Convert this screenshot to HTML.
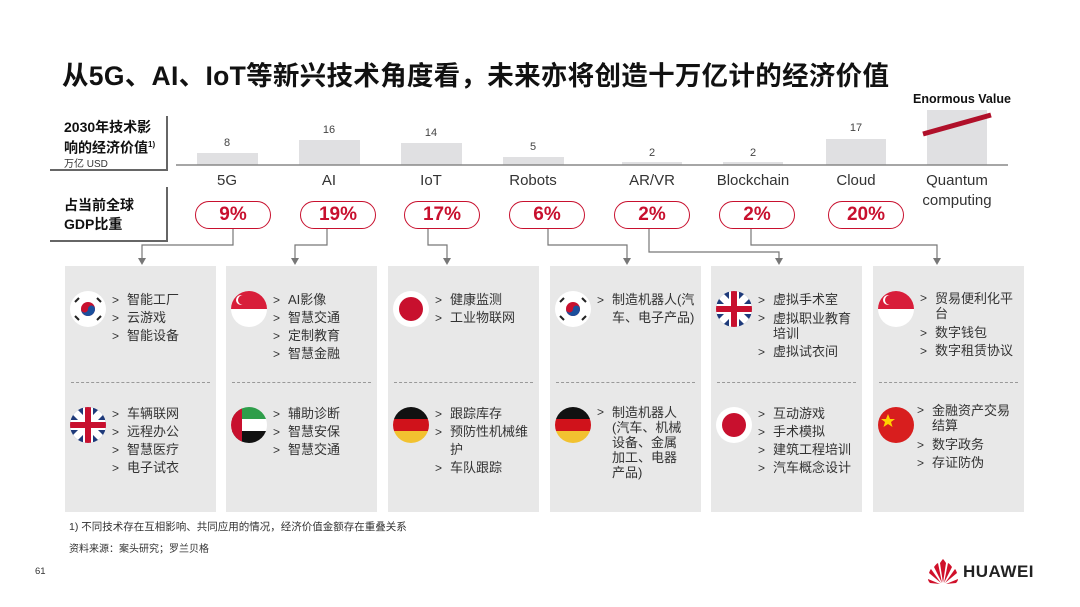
<!DOCTYPE html>
<html><head><meta charset="utf-8"><style>
*{margin:0;padding:0;box-sizing:border-box}
body{width:1080px;height:607px;background:#fff;position:relative;overflow:hidden;font-family:"Liberation Sans","Noto Sans CJK SC",sans-serif;color:#222}
.abs{position:absolute}
.title{left:62px;top:54px;font-size:26.5px;font-weight:bold;color:#111;letter-spacing:0.3px}
.card{position:absolute;top:266px;width:151px;height:246px;background:#e8e8e8}
.dash{position:absolute;left:6px;right:6px;top:116px;border-top:1px dashed #999}
.flag{position:absolute;left:5px;width:36px;height:36px}
.list{position:absolute;left:47px;right:4px;font-size:13px;line-height:18px;color:#333}
.list div{position:relative;padding-left:15px}
.list div:before{content:">";position:absolute;left:0;top:0;font-size:12px}
.pill{position:absolute;top:201px;width:76px;height:28px;border:1.3px solid #c8102e;border-radius:14px;color:#c8102e;font-weight:bold;font-size:19px;text-align:center;line-height:26px}
.cat{position:absolute;top:172px;width:110px;text-align:center;font-size:15px;color:#333}
.val{position:absolute;width:60px;text-align:center;font-size:11px;color:#444}
</style></head><body>
<div class="abs title">从5G、AI、IoT等新兴技术角度看，未来亦将创造十万亿计的经济价值</div>

<div class="abs" style="left:50px;top:116px;width:118px;height:55px;border-right:2px solid #666;border-bottom:2px solid #666"></div>
<div class="abs" style="left:64px;top:118px;font-size:14px;font-weight:bold;line-height:18px;color:#111">2030年技术影<br>响的经济价值<sup style="font-size:8px">1)</sup></div>
<div class="abs" style="left:64px;top:155px;font-size:10px;color:#333">万亿 USD</div>
<div class="abs" style="left:50px;top:187px;width:118px;height:55px;border-right:2px solid #666;border-bottom:2px solid #666"></div>
<div class="abs" style="left:64px;top:196px;font-size:14px;font-weight:bold;line-height:19px;color:#111">占当前全球<br>GDP比重</div>

<svg class="abs" style="left:0;top:0" width="1080" height="280">
<g fill="#e0e0e2">
<rect x="197" y="153" width="61" height="12"/>
<rect x="299" y="140" width="61" height="25"/>
<rect x="401" y="143" width="61" height="22"/>
<rect x="503" y="157" width="61" height="8"/>
<rect x="622" y="162" width="60" height="3"/>
<rect x="723" y="162" width="60" height="3"/>
<rect x="826" y="139" width="60" height="26"/>
<rect x="927" y="110" width="60" height="55"/>
</g>
<line x1="176" y1="165" x2="1008" y2="165" stroke="#888" stroke-width="1.5"/>
<line x1="923" y1="134" x2="991" y2="115" stroke="#b0102a" stroke-width="5"/>
<g fill="none" stroke="#777" stroke-width="1.2">
<polyline points="233,229 233,245 142,245 142,260"/>
<polyline points="327,229 327,245 295,245 295,260"/>
<polyline points="428,229 428,245 447,245 447,260"/>
<polyline points="548,229 548,245 627,245 627,260"/>
<polyline points="649,229 649,252 779,252 779,260"/>
<polyline points="751,229 751,245 937,245 937,260"/>
</g>
<g fill="#777">
<polygon points="138,258 146,258 142,265"/>
<polygon points="291,258 299,258 295,265"/>
<polygon points="443,258 451,258 447,265"/>
<polygon points="623,258 631,258 627,265"/>
<polygon points="775,258 783,258 779,265"/>
<polygon points="933,258 941,258 937,265"/>
</g>
</svg>
<div class="abs" style="left:913px;top:92px;font-size:12.5px;font-weight:bold;color:#111">Enormous Value</div>

<div class="val" style="left:197px;top:137px">8</div>
<div class="val" style="left:299px;top:124px">16</div>
<div class="val" style="left:401px;top:127px">14</div>
<div class="val" style="left:503px;top:141px">5</div>
<div class="val" style="left:622px;top:147px">2</div>
<div class="val" style="left:723px;top:147px">2</div>
<div class="val" style="left:826px;top:122px">17</div>

<div class="cat" style="left:172px">5G</div>
<div class="cat" style="left:274px">AI</div>
<div class="cat" style="left:376px">IoT</div>
<div class="cat" style="left:478px">Robots</div>
<div class="cat" style="left:597px">AR/VR</div>
<div class="cat" style="left:698px">Blockchain</div>
<div class="cat" style="left:801px">Cloud</div>
<div class="cat" style="left:902px;line-height:20px;top:171px">Quantum<br>computing</div>

<div class="pill" style="left:195px">9%</div>
<div class="pill" style="left:300px">19%</div>
<div class="pill" style="left:404px">17%</div>
<div class="pill" style="left:509px">6%</div>
<div class="pill" style="left:614px">2%</div>
<div class="pill" style="left:719px">2%</div>
<div class="pill" style="left:828px">20%</div>

<div class="card" style="left:65px">
 <svg class="flag" style="top:25px" viewBox="0 0 36 36"><circle cx="18" cy="18" r="18" fill="#fff"/><circle cx="18" cy="18" r="7" fill="#c8102e"/><path d="M11,18a7,7 0 0 0 14,0a3.5,3.5 0 0 0 -7,0a3.5,3.5 0 0 1 -7,0z" fill="#1b4f9c"/><g stroke="#222" stroke-width="2"><line x1="5" y1="11" x2="9" y2="7"/><line x1="27" y1="7" x2="31" y2="11"/><line x1="5" y1="25" x2="9" y2="29"/><line x1="27" y1="29" x2="31" y2="25"/></g></svg>
 <div class="list" style="top:25px"><div>智能工厂</div><div>云游戏</div><div>智能设备</div></div>
 <div class="dash"></div>
 <svg class="flag" style="top:141px" viewBox="0 0 36 36"><defs><clipPath id="c1"><circle cx="18" cy="18" r="18"/></clipPath></defs><g clip-path="url(#c1)"><rect width="36" height="36" fill="#1e3a7a"/><path d="M0,0L36,36M36,0L0,36" stroke="#fff" stroke-width="7"/><path d="M18,0V36M0,18H36" stroke="#fff" stroke-width="10"/><path d="M18,0V36M0,18H36" stroke="#c8102e" stroke-width="6"/></g></svg>
 <div class="list" style="top:139px"><div>车辆联网</div><div>远程办公</div><div>智慧医疗</div><div>电子试衣</div></div>
</div>

<div class="card" style="left:226px">
 <svg class="flag" style="top:25px" viewBox="0 0 36 36"><defs><clipPath id="c2"><circle cx="18" cy="18" r="18"/></clipPath></defs><g clip-path="url(#c2)"><rect width="36" height="36" fill="#fff"/><rect width="36" height="18" fill="#d81e3a"/><circle cx="10" cy="9" r="5" fill="#fff"/><circle cx="12" cy="9" r="5" fill="#d81e3a"/></g></svg>
 <div class="list" style="top:25px"><div>AI影像</div><div>智慧交通</div><div>定制教育</div><div>智慧金融</div></div>
 <div class="dash"></div>
 <svg class="flag" style="top:141px" viewBox="0 0 36 36"><defs><clipPath id="c3"><circle cx="18" cy="18" r="18"/></clipPath></defs><g clip-path="url(#c3)"><rect width="36" height="12" fill="#2e9e4a"/><rect y="12" width="36" height="12" fill="#fff"/><rect y="24" width="36" height="12" fill="#111"/><rect width="11" height="36" fill="#c8102e"/></g></svg>
 <div class="list" style="top:139px"><div>辅助诊断</div><div>智慧安保</div><div>智慧交通</div></div>
</div>

<div class="card" style="left:388px">
 <svg class="flag" style="top:25px" viewBox="0 0 36 36"><circle cx="18" cy="18" r="18" fill="#fff"/><circle cx="18" cy="18" r="12" fill="#c8102e"/></svg>
 <div class="list" style="top:25px"><div>健康监测</div><div>工业物联网</div></div>
 <div class="dash"></div>
 <svg class="flag" style="top:141px" viewBox="0 0 36 36"><defs><clipPath id="c4"><circle cx="18" cy="18" r="18"/></clipPath></defs><g clip-path="url(#c4)"><rect width="36" height="12" fill="#111"/><rect y="12" width="36" height="12" fill="#d0121b"/><rect y="24" width="36" height="12" fill="#f2c230"/></g></svg>
 <div class="list" style="top:139px"><div>跟踪库存</div><div>预防性机械维护</div><div>车队跟踪</div></div>
</div>

<div class="card" style="left:550px">
 <svg class="flag" style="top:25px" viewBox="0 0 36 36"><circle cx="18" cy="18" r="18" fill="#fff"/><circle cx="18" cy="18" r="7" fill="#c8102e"/><path d="M11,18a7,7 0 0 0 14,0a3.5,3.5 0 0 0 -7,0a3.5,3.5 0 0 1 -7,0z" fill="#1b4f9c"/><g stroke="#222" stroke-width="2"><line x1="5" y1="11" x2="9" y2="7"/><line x1="27" y1="7" x2="31" y2="11"/><line x1="5" y1="25" x2="9" y2="29"/><line x1="27" y1="29" x2="31" y2="25"/></g></svg>
 <div class="list" style="top:25px"><div>制造机器人(汽车、电子产品)</div></div>
 <div class="dash"></div>
 <svg class="flag" style="top:141px" viewBox="0 0 36 36"><defs><clipPath id="c5"><circle cx="18" cy="18" r="18"/></clipPath></defs><g clip-path="url(#c5)"><rect width="36" height="12" fill="#111"/><rect y="12" width="36" height="12" fill="#d0121b"/><rect y="24" width="36" height="12" fill="#f2c230"/></g></svg>
 <div class="list" style="top:139px;right:8px;line-height:15px"><div>制造机器人<br>(汽车、机械<br>设备、金属<br>加工、电器<br>产品)</div></div>
</div>

<div class="card" style="left:711px">
 <svg class="flag" style="top:25px" viewBox="0 0 36 36"><defs><clipPath id="c6"><circle cx="18" cy="18" r="18"/></clipPath></defs><g clip-path="url(#c6)"><rect width="36" height="36" fill="#1e3a7a"/><path d="M0,0L36,36M36,0L0,36" stroke="#fff" stroke-width="7"/><path d="M18,0V36M0,18H36" stroke="#fff" stroke-width="10"/><path d="M18,0V36M0,18H36" stroke="#c8102e" stroke-width="6"/></g></svg>
 <div class="list" style="top:25px"><div>虚拟手术室</div><div style="line-height:15px;margin:2px 0">虚拟职业教育培训</div><div>虚拟试衣间</div></div>
 <div class="dash"></div>
 <svg class="flag" style="top:141px" viewBox="0 0 36 36"><circle cx="18" cy="18" r="18" fill="#fff"/><circle cx="18" cy="18" r="12" fill="#c8102e"/></svg>
 <div class="list" style="top:139px"><div>互动游戏</div><div>手术模拟</div><div>建筑工程培训</div><div>汽车概念设计</div></div>
</div>

<div class="card" style="left:873px">
 <svg class="flag" style="top:25px" viewBox="0 0 36 36"><defs><clipPath id="c7"><circle cx="18" cy="18" r="18"/></clipPath></defs><g clip-path="url(#c7)"><rect width="36" height="36" fill="#fff"/><rect width="36" height="18" fill="#d81e3a"/><circle cx="10" cy="9" r="5" fill="#fff"/><circle cx="12" cy="9" r="5" fill="#d81e3a"/></g></svg>
 <div class="list" style="top:25px"><div style="line-height:15px;margin-bottom:3px">贸易便利化平台</div><div>数字钱包</div><div>数字租赁协议</div></div>
 <div class="dash"></div>
 <svg class="flag" style="top:141px" viewBox="0 0 36 36"><circle cx="18" cy="18" r="18" fill="#d81e1e"/><polygon points="10,7 12,12 17,12 13,15 14.5,20 10,17 5.5,20 7,15 3,12 8,12" fill="#ffd200"/></svg>
 <div class="list" style="top:137px;left:44px"><div style="line-height:15px;margin-bottom:3px">金融资产交易结算</div><div>数字政务</div><div>存证防伪</div></div>
</div>

<div class="abs" style="left:69px;top:519px;font-size:10.5px;color:#333">1) 不同技术存在互相影响、共同应用的情况，经济价值金额存在重叠关系</div>
<div class="abs" style="left:69px;top:540px;font-size:10px;color:#333">资料来源：案头研究；罗兰贝格</div>
<div class="abs" style="left:35px;top:566px;font-size:9.5px;color:#333">61</div>

<svg class="abs" style="left:927px;top:559px" width="32" height="26" viewBox="0 0 32 26">
<g fill="#d0102a">
<path d="M16,24 L13,4 Q15,1 16,0 Q17,1 19,4 Z"/>
<path d="M15,24 L7,8 Q9,5 11,4 Z"/>
<path d="M17,24 L25,8 Q23,5 21,4 Z"/>
<path d="M14,24 L2,14 Q3,11 4,10 Z"/>
<path d="M18,24 L30,14 Q29,11 28,10 Z"/>
<path d="M13,25 L1,20 Q1,22 3,24 Z"/>
<path d="M19,25 L31,20 Q31,22 29,24 Z"/>
</g></svg>
<div class="abs" style="left:963px;top:562px;font-size:17px;font-weight:bold;color:#222;letter-spacing:0.5px">HUAWEI</div>
</body></html>
